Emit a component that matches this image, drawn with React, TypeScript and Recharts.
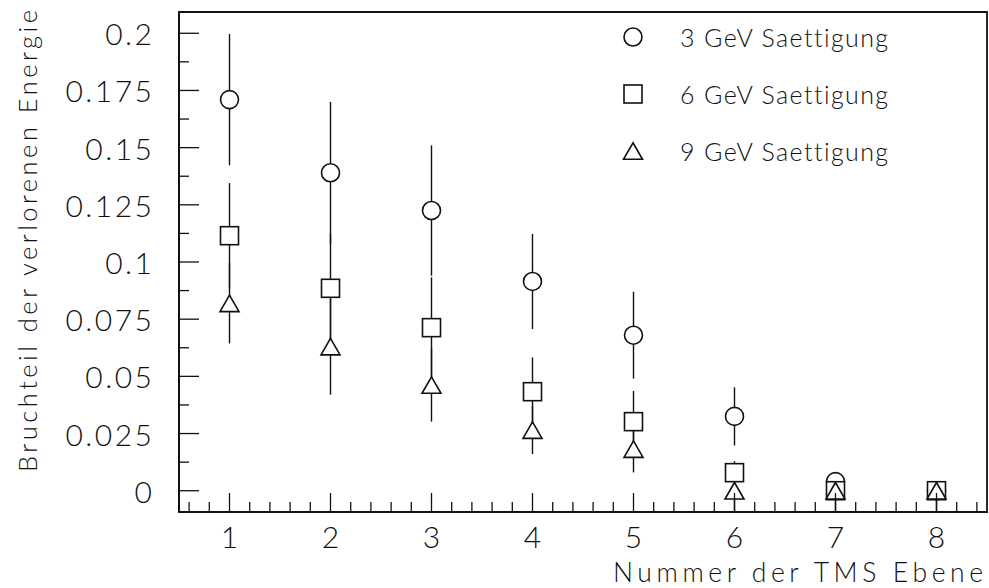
import React from 'react'
import {
  ErrorBar,
  Label,
  Legend,
  ReferenceArea,
  Scatter,
  ScatterChart,
  XAxis,
  YAxis,
} from 'recharts'

// TMS layer numbers
const layers = [1, 2, 3, 4, 5, 6, 7, 8]

// fraction of lost energy per saturation setting, with errors (down / up)
const sat3 = [0.171, 0.139, 0.1225, 0.0915, 0.068, 0.0325, 0.004, 0]
const sat3Err = [0.0287, 0.031, 0.0285, 0.0208, 0.019, 0.0127, 0.003, 0.002]
const sat6 = [0.1115, 0.0885, 0.0713, 0.0433, 0.0302, 0.0079, 0, 0]
const sat6Err = [0.023, 0.024, 0.022, 0.015, 0.0134, 0.005, 0.003, 0.003]
const sat9 = [0.0819, 0.063, 0.0462, 0.0265, 0.0182, 0, 0, 0]
const sat9ErrDown = [0.0175, 0.021, 0.016, 0.0105, 0.0102, 0.009, 0.009, 0.009]
const sat9ErrUp = [0.0175, 0.021, 0.016, 0.0105, 0.0102, 0.006, 0.003, 0.003]

const seriesNames = ['3 GeV Saettigung', '6 GeV Saettigung', '9 GeV Saettigung']

const yTickLabels = ['0', '0.025', '0.05', '0.075', '0.1', '0.125', '0.15', '0.175', '0.2']
const yMajorTicks = yTickLabels.map(Number)

const X_DOMAIN: [number, number] = [0.5, 8.5]
const Y_DOMAIN: [number, number] = [-0.0093, 0.2093]

// minor ticks: every 0.2 on x, every 0.0125 on y
const xTicks: number[] = []
for (let i = 3; i <= 42; i++) xTicks.push(i / 5)
const yTicks: number[] = []
for (let i = 0; i <= 16; i++) yTicks.push(i / 80)

const FONT = 'Lato, "DejaVu Sans", sans-serif'
const INK = '#111'

const toRows = (vals: number[], down: number[], up: number[]) =>
  layers.map((x, i) => ({ x, y: vals[i], err: [down[i], up[i]] }))

const rows3 = toRows(sat3, sat3Err, sat3Err)
const rows6 = toRows(sat6, sat6Err, sat6Err)
const rows9 = toRows(sat9, sat9ErrDown, sat9ErrUp)

type Kind = 'circle' | 'square' | 'triangle'

function Marker({ kind, cx, cy }: { kind: Kind; cx: number; cy: number }) {
  const common = { fill: '#fff', stroke: INK, strokeWidth: 1.6 }
  if (kind === 'circle') return <circle cx={cx} cy={cy} r={9} {...common} />
  if (kind === 'square') return <rect x={cx - 9} y={cy - 9} width={18} height={18} {...common} />
  const h = 16.5
  const w = 19
  return (
    <polygon
      points={`${cx},${cy - h / 2} ${cx + w / 2},${cy + h / 2} ${cx - w / 2},${cy + h / 2}`}
      {...common}
    />
  )
}

const shapeFor = (kind: Kind) => (props: any) => <Marker kind={kind} cx={props.cx} cy={props.cy} />

const XTick = (props: any) => {
  const { x, y, payload } = props
  const v = payload.value as number
  const major = Math.abs(v - Math.round(v)) < 1e-6
  return (
    <g>
      <line x1={x} x2={x} y1={y} y2={y - (major ? 19 : 10)} stroke={INK} strokeWidth={1.3} />
      {major && (
        <text x={x} y={y + 36} textAnchor="middle" fontFamily={FONT} fontWeight={300} fontSize={30} fill={INK}>
          {v}
        </text>
      )}
    </g>
  )
}

const YTick = (props: any) => {
  const { x, y, payload } = props
  const v = payload.value as number
  const idx = yMajorTicks.findIndex((t) => Math.abs(t - v) < 1e-9)
  const major = idx >= 0
  return (
    <g>
      <line x1={x} x2={x + (major ? 20 : 10)} y1={y} y2={y} stroke={INK} strokeWidth={1.3} />
      {major && (
        <text
          x={x - 24.5}
          y={y + 12}
          textAnchor="end"
          fontFamily={FONT}
          fontWeight={300}
          fontSize={30}
          letterSpacing={2.5}
          fill={INK}
        >
          {yTickLabels[idx]}
        </text>
      )}
    </g>
  )
}

const kinds: Kind[] = ['circle', 'square', 'triangle']

const renderLegend = () => (
  <div style={{ fontFamily: FONT, fontWeight: 300, fontSize: 25, color: INK, letterSpacing: 1.4 }}>
    {seriesNames.map((name, i) => (
      <div key={name} style={{ display: 'flex', alignItems: 'center', height: 57 }}>
        <svg width={26} height={26} style={{ display: 'block' }}>
          <Marker kind={kinds[i]} cx={13} cy={13} />
        </svg>
        <span style={{ marginLeft: 34 }}>{name}</span>
      </div>
    ))}
  </div>
)

export default function App() {
  return (
    <div style={{ position: 'absolute', left: 0, top: 0, width: 989, height: 588, background: '#fff' }}>
      <ScatterChart width={989} height={588} margin={{ top: 12, right: 2, bottom: 0, left: 0 }}>
        <XAxis
          type="number"
          dataKey="x"
          domain={X_DOMAIN}
          ticks={xTicks}
          interval={0}
          allowDataOverflow
          height={76}
          tickSize={0}
          tickMargin={0}
          tickLine={false}
          axisLine={{ stroke: INK, strokeWidth: 1.8 }}
          tick={<XTick />}
        >
          <Label
            content={() => (
              <text
                x={613}
                y={582}
                textLength={370}
                lengthAdjust="spacing"
                fontFamily={FONT}
                fontWeight={300}
                fontSize={26.5}
                fill={INK}
              >
                Nummer der TMS Ebene
              </text>
            )}
          />
        </XAxis>
        <YAxis
          type="number"
          dataKey="y"
          domain={Y_DOMAIN}
          ticks={yTicks}
          interval={0}
          allowDataOverflow
          width={179}
          tickSize={0}
          tickMargin={0}
          tickLine={false}
          axisLine={{ stroke: INK, strokeWidth: 1.8 }}
          tick={<YTick />}
        >
          <Label
            content={() => (
              <text
                x={0}
                y={0}
                transform="translate(37 472) rotate(-90)"
                textLength={462}
                lengthAdjust="spacing"
                fontFamily={FONT}
                fontWeight={300}
                fontSize={25.5}
                fill={INK}
              >
                Bruchteil der verlorenen Energie
              </text>
            )}
          />
        </YAxis>
        <ReferenceArea
          x1={X_DOMAIN[0]}
          x2={X_DOMAIN[1]}
          y1={Y_DOMAIN[0]}
          y2={Y_DOMAIN[1]}
          fill="none"
          stroke={INK}
          strokeWidth={1.8}
          ifOverflow="visible"
        />
        <Legend
          layout="vertical"
          align="center"
          verticalAlign="middle"
          content={renderLegend}
          wrapperStyle={{ left: 620, top: 8, width: 330, height: 171 }}
        />
        <Scatter name={seriesNames[0]} data={rows3} shape={shapeFor('circle')} isAnimationActive={false}>
          <ErrorBar dataKey="err" direction="y" width={0} stroke={INK} strokeWidth={1.4} />
        </Scatter>
        <Scatter name={seriesNames[1]} data={rows6} shape={shapeFor('square')} isAnimationActive={false}>
          <ErrorBar dataKey="err" direction="y" width={0} stroke={INK} strokeWidth={1.4} />
        </Scatter>
        <Scatter name={seriesNames[2]} data={rows9} shape={shapeFor('triangle')} isAnimationActive={false}>
          <ErrorBar dataKey="err" direction="y" width={0} stroke={INK} strokeWidth={1.4} />
        </Scatter>
      </ScatterChart>
    </div>
  )
}
